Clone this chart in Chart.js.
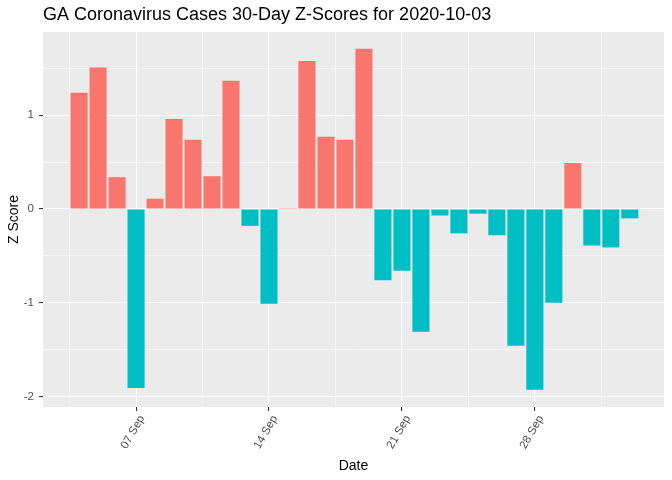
<!DOCTYPE html>
<html>
<head>
<meta charset="utf-8">
<script src="https://cdn.jsdelivr.net/npm/chart.js@4"></script>
<style>
  body { margin: 0; background: #fff; }
  canvas { display: block; }
</style>
</head>
<body>
<canvas id="chart" width="672" height="480"></canvas>
<script>
// Jours (jour de septembre, 31 = 1er oct.) et z-scores
const days = [4, 5, 6, 7, 8, 9, 10, 11, 12, 13, 14, 15, 16, 17, 18, 19, 20,
              21, 22, 23, 24, 25, 26, 27, 28, 29, 30, 31, 32, 33];
const zScores = [1.24, 1.51, 0.34, -1.91, 0.11, 0.96, 0.74, 0.35, 1.37, -0.18,
                 -1.01, 0.01, 1.58, 0.77, 0.74, 1.71, -0.76, -0.66, -1.31, -0.07,
                 -0.26, -0.05, -0.28, -1.46, -1.93, -1.00, 0.49, -0.39, -0.41, -0.10];
const xTickValues = [7, 14, 21, 28];
const xTickLabels = ['07 Sep', '14 Sep', '21 Sep', '28 Sep'];
const yTickValues = [-2, -1, 0, 1];

const panelBg = {
    id: 'panelBg',
    beforeDraw(chart) {
        const a = chart.chartArea;
        const ctx = chart.ctx;
        ctx.save();
        ctx.fillStyle = '#EBEBEB';
        ctx.fillRect(a.left, a.top, a.right - a.left, a.bottom - a.top);
        ctx.restore();
    },
    afterDraw(chart) {
        const ctx = chart.ctx;
        ctx.save();
        ctx.fillStyle = '#000';
        ctx.font = '18px "Liberation Sans", Arial, sans-serif';
        ctx.textBaseline = 'middle';
        ctx.textAlign = 'left';
        ctx.fillText('GA Coronavirus Cases 30-Day Z-Scores for 2020-10-03', chart.chartArea.left, 15);
        ctx.restore();
    }
};

const tickVal = c => (c && c.tick) ? c.tick.value : null;
const isMajorX = c => xTickValues.includes(tickVal(c));
const isMajorY = c => yTickValues.includes(tickVal(c));

new Chart(document.getElementById('chart'), {
    type: 'bar',
    data: {
        datasets: [{
            data: days.map((d, i) => ({ x: d, y: zScores[i] })),
            backgroundColor: ctx => (ctx.raw && ctx.raw.y > 0) ? '#F8766D' : '#00BFC4',
            borderWidth: 0,
            categoryPercentage: 1,
            barPercentage: 0.9
        }]
    },
    options: {
        responsive: false,
        animation: false,
        devicePixelRatio: 1,
        layout: { padding: { top: 32, right: 8, left: 0, bottom: 0 } },
        plugins: {
            legend: { display: false },
            tooltip: { enabled: false }
        },
        scales: {
            x: {
                type: 'linear',
                offset: false,
                min: 2.1,
                max: 34.8,
                afterBuildTicks: s => {
                    s.ticks = [3.5, 7, 10.5, 14, 17.5, 21, 24.5, 28, 31.5].map(v => ({ value: v }));
                },
                afterFit: s => { s.height = 73; },
                border: { display: false },
                grid: {
                    offset: false,
                    color: '#FFFFFF',
                    lineWidth: c => isMajorX(c) ? 1.1 : 0.55,
                    tickColor: c => isMajorX(c) ? '#333333' : 'rgba(0,0,0,0)',
                    tickLength: 4,
                    tickWidth: 1.1
                },
                ticks: {
                    autoSkip: false,
                    minRotation: 60,
                    maxRotation: 60,
                    padding: 2,
                    labelOffset: 6,
                    color: '#4D4D4D',
                    font: { size: 11.5, family: '"Liberation Sans", Arial, sans-serif' },
                    callback: v => {
                        const k = xTickValues.indexOf(v);
                        return k >= 0 ? xTickLabels[k] : '';
                    }
                },
                title: {
                    display: true,
                    text: 'Date',
                    color: '#000',
                    padding: { top: 0, bottom: 5 },
                    font: { size: 14, family: '"Liberation Sans", Arial, sans-serif' }
                }
            },
            y: {
                min: -2.113,
                max: 1.889,
                afterBuildTicks: s => {
                    s.ticks = [-2, -1.5, -1, -0.5, 0, 0.5, 1, 1.5].map(v => ({ value: v }));
                },
                afterFit: s => { s.width = 43; },
                border: { display: false },
                grid: {
                    color: '#FFFFFF',
                    lineWidth: c => isMajorY(c) ? 1.1 : 0.55,
                    tickColor: c => isMajorY(c) ? '#333333' : 'rgba(0,0,0,0)',
                    tickLength: 4,
                    tickWidth: 1.1
                },
                ticks: {
                    autoSkip: false,
                    padding: 5,
                    color: '#4D4D4D',
                    font: { size: 11.5, family: '"Liberation Sans", Arial, sans-serif' },
                    callback: v => yTickValues.includes(v) ? String(v) : ''
                },
                title: {
                    display: true,
                    text: 'Z Score',
                    color: '#000',
                    padding: { top: 6, bottom: 0 },
                    font: { size: 14, family: '"Liberation Sans", Arial, sans-serif' }
                }
            }
        }
    },
    plugins: [panelBg]
});
</script>
</body>
</html>
